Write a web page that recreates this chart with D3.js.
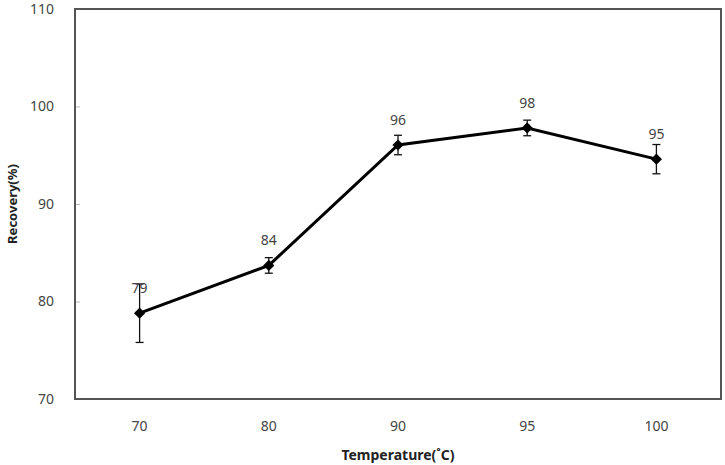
<!DOCTYPE html>
<html>
<head>
<meta charset="utf-8">
<script src="https://cdn.jsdelivr.net/npm/d3@7"></script>
<style>
    body { margin: 0; background: #fff; }
    text { font-family: "Noto Sans", "Open Sans", sans-serif; }
</style>
</head>
<body>
<svg id="drawing_region"></svg>
<script>
const temperatures = ['70', '80', '90', '95', '100'];
const recovery = [78.8, 83.7, 96.05, 97.8, 94.6];
const errors = [3.0, 0.8, 1.0, 0.8, 1.5];
const pointLabels = ['79', '84', '96', '98', '95'];
const yTicks = [70, 80, 90, 100, 110];

const data = temperatures.map((t, i) => ({
    label: t, value: recovery[i], err: errors[i], text: pointLabels[i]
}));

const width = 725, height = 465;
const margin = {top: 9, right: 4, bottom: 66, left: 75};
const innerW = width - margin.left - margin.right;
const innerH = height - margin.top - margin.bottom;

const svg = d3.select('#drawing_region')
    .attr('width', width)
    .attr('height', height);

const chart = svg.append('g')
    .attr('transform', `translate(${margin.left}, ${margin.top})`);

const xscale = d3.scaleBand()
    .domain(temperatures)
    .range([0, innerW]);

const yscale = d3.scaleLinear()
    .domain([70, 110])
    .range([innerH, 0]);

// y axis: short inward ticks, labels on the left
const yaxis = d3.axisRight(yscale)
    .tickValues(yTicks)
    .tickSize(5)
    .tickFormat(d => d);

const yg = chart.append('g').call(yaxis);
yg.select('.domain').remove();
yg.selectAll('.tick line').attr('stroke', '#bbb');
yg.selectAll('.tick text')
    .attr('x', -21)
    .attr('text-anchor', 'end')
    .attr('fill', '#444')
    .attr('font-size', 14);

// x axis labels only
const xaxis = d3.axisBottom(xscale).tickSize(0).tickPadding(22);
const xg = chart.append('g')
    .attr('transform', `translate(0, ${innerH})`)
    .call(xaxis);
xg.select('.domain').remove();
xg.selectAll('.tick text')
    .attr('fill', '#444')
    .attr('font-size', 14);

// frame
chart.append('rect')
    .attr('x', 0).attr('y', 0)
    .attr('width', innerW).attr('height', innerH)
    .attr('fill', 'none')
    .attr('stroke', '#555')
    .attr('stroke-width', 2);

const cx = d => xscale(d.label) + xscale.bandwidth() / 2;

// error bars
const eb = chart.selectAll('.err').data(data).join('g').attr('class', 'err');
eb.append('line')
    .attr('x1', cx).attr('x2', cx)
    .attr('y1', d => yscale(d.value - d.err))
    .attr('y2', d => yscale(d.value + d.err))
    .attr('stroke', '#111').attr('stroke-width', 1.3);
[-1, 1].forEach(s => {
    eb.append('line')
        .attr('x1', d => cx(d) - 4).attr('x2', d => cx(d) + 4)
        .attr('y1', d => yscale(d.value + s * d.err))
        .attr('y2', d => yscale(d.value + s * d.err))
        .attr('stroke', '#111').attr('stroke-width', 1.3);
});

// line
const line = d3.line().x(cx).y(d => yscale(d.value));
chart.append('path')
    .datum(data)
    .attr('d', line)
    .attr('fill', 'none')
    .attr('stroke', '#000')
    .attr('stroke-width', 3);

// diamond markers
chart.selectAll('.marker').data(data)
    .join('path')
    .attr('class', 'marker')
    .attr('d', d3.symbol(d3.symbolDiamond2, 80))
    .attr('transform', d => `translate(${cx(d)}, ${yscale(d.value)})`)
    .attr('fill', '#000');

// value labels
chart.selectAll('.vlabel').data(data)
    .join('text')
    .attr('class', 'vlabel')
    .attr('x', cx)
    .attr('y', d => yscale(d.value) - 20)
    .attr('text-anchor', 'middle')
    .attr('fill', '#444')
    .attr('font-size', 14)
    .text(d => d.text);

// axis titles
svg.append('text')
    .attr('transform', `translate(17, ${margin.top + innerH / 2}) rotate(-90)`)
    .attr('text-anchor', 'middle')
    .attr('font-weight', 'bold')
    .attr('font-size', 13)
    .attr('fill', '#222')
    .text('Recovery(%)');

svg.append('text')
    .attr('x', margin.left + innerW / 2)
    .attr('y', 460)
    .attr('text-anchor', 'middle')
    .attr('font-weight', 'bold')
    .attr('font-size', 14)
    .attr('fill', '#222')
    .text('Temperature(˚C)');
</script>
</body>
</html>
